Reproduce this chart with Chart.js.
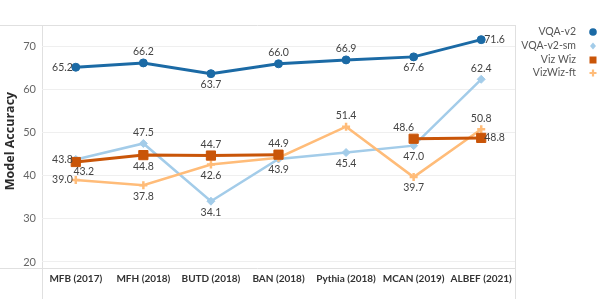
<!DOCTYPE html>
<html>
<head>
<meta charset="utf-8">
<script src="https://cdn.jsdelivr.net/npm/chart.js@4.4.1/dist/chart.umd.min.js"></script>
<style>
  html, body { margin: 0; padding: 0; background: #fff; }
  #wrap { width: 598px; height: 299px; }
</style>
</head>
<body>
<div id="wrap"><canvas id="accChart" width="598" height="299"></canvas></div>
<script>
// ---------------- DATA ----------------
const models = ["MFB (2017)", "MFH (2018)", "BUTD (2018)", "BAN (2018)", "Pythia (2018)", "MCAN (2019)", "ALBEF (2021)"];
const vqaV2   = [65.2, 66.2, 63.7, 66.0, 66.9, 67.6, 71.6];
const vqaV2sm = [43.8, 47.5, 34.1, 43.9, 45.4, 47.0, 62.4];
const vizWiz  = [43.2, 44.8, 44.7, 44.9, null, 48.6, 48.8];
const vizWizFt = [39.0, 37.8, 42.6, 44.2, 51.4, 39.7, 50.8];
const yTicks = [20, 30, 40, 50, 60, 70];

// where each value label sits: a = above, b = below, l = left, r = right, br = below right, n = none
const FONT = "Lato, 'Open Sans', sans-serif";

const datasets = [
  {
    label: "VQA-v2", data: vqaV2, borderColor: "#1b6aa5", backgroundColor: "#1b6aa5",
    borderWidth: 3, pointStyle: "circle", pointRadius: 4, pointBorderWidth: 1, order: 2,
    labelPos: ["l", "a", "b", "a", "a", "b", "r"]
  },
  {
    label: "VQA-v2-sm", data: vqaV2sm, borderColor: "#a3cce9", backgroundColor: "#a3cce9",
    borderWidth: 2.5, pointStyle: "rectRot", pointRadius: 4, pointBorderWidth: 1, order: 3,
    labelPos: ["l", "a", "b", "b", "b", "b", "a"]
  },
  {
    label: "Viz Wiz", data: vizWiz, borderColor: "#c95508", backgroundColor: "#c95508",
    borderWidth: 3, pointStyle: "rect", pointRadius: 6.5, pointBorderWidth: 1, order: 0,
    labelPos: ["br", "b", "a", "a", "n", "al", "r"]
  },
  {
    label: "VizWiz-ft", data: vizWizFt, borderColor: "#ffbc79", backgroundColor: "#ffbc79",
    borderWidth: 2.5, pointStyle: "cross", pointRadius: 4, pointBorderWidth: 2.5, order: 1,
    labelPos: ["l", "b", "b", "n", "a", "b", "a"]
  }
];

// ---------------- PLUGINS ----------------
const frame = {
  id: "frame",
  beforeDraw(chart) {
    const { ctx, chartArea: a } = chart;
    ctx.save();
    ctx.strokeStyle = "#e0e0e0";
    ctx.lineWidth = 1;
    ctx.beginPath();
    ctx.moveTo(0, a.top + 0.5); ctx.lineTo(a.right, a.top + 0.5);
    ctx.moveTo(0, a.bottom + 0.5); ctx.lineTo(a.right, a.bottom + 0.5);
    ctx.moveTo(a.left + 0.5, a.top); ctx.lineTo(a.left + 0.5, 299);
    ctx.moveTo(a.right + 0.5, a.top); ctx.lineTo(a.right + 0.5, 299);
    ctx.stroke();

    // axis title
    ctx.translate(10, 141);
    ctx.rotate(-Math.PI / 2);
    ctx.fillStyle = "#2b2b2b";
    ctx.font = "bold 12.5px 'Open Sans', sans-serif";
    ctx.textAlign = "center";
    ctx.textBaseline = "middle";
    ctx.fillText("Model Accuracy", 0, 0);
    ctx.restore();
  }
};

const valueLabels = {
  id: "valueLabels",
  afterDatasetsDraw(chart) {
    const ctx = chart.ctx;
    ctx.save();
    ctx.font = "10.5px " + FONT;
    ctx.fillStyle = "#444";
    ctx.textBaseline = "middle";
    chart.data.datasets.forEach((ds, i) => {
      const meta = chart.getDatasetMeta(i);
      meta.data.forEach((pt, j) => {
        const v = ds.data[j];
        const pos = ds.labelPos[j];
        if (v == null || pos === "n") return;
        const txt = v.toFixed(1);
        let x = pt.x, y = pt.y;
        if (pos === "a") { ctx.textAlign = "center"; y -= 11; }
        else if (pos === "b") { ctx.textAlign = "center"; y += 11; }
        else if (pos === "l") { ctx.textAlign = "right"; x -= 3; }
        else if (pos === "r") { ctx.textAlign = "left"; x += 3; }
        else if (pos === "br") { ctx.textAlign = "center"; x += 8; y += 10; }
        else if (pos === "al") { ctx.textAlign = "center"; x -= 10; y -= 11; }
        ctx.fillText(txt, x, y);
      });
    });
    ctx.restore();
  }
};

const sideLegend = {
  id: "sideLegend",
  afterDraw(chart) {
    const ctx = chart.ctx;
    const rows = [32, 46, 60, 73];
    ctx.save();
    ctx.font = "10.5px " + FONT;
    ctx.textAlign = "right";
    ctx.textBaseline = "middle";
    chart.data.datasets.forEach((ds, i) => {
      const y = rows[i];
      ctx.fillStyle = "#555";
      ctx.fillText(ds.label, 576, y);
      const x = 593;
      ctx.fillStyle = ds.backgroundColor;
      ctx.strokeStyle = ds.borderColor;
      ctx.beginPath();
      if (ds.pointStyle === "circle") {
        ctx.arc(x, y, 3.8, 0, Math.PI * 2); ctx.fill();
      } else if (ds.pointStyle === "rectRot") {
        ctx.moveTo(x, y - 3.5); ctx.lineTo(x + 3, y); ctx.lineTo(x, y + 3.5); ctx.lineTo(x - 3, y);
        ctx.closePath(); ctx.fill();
      } else if (ds.pointStyle === "rect") {
        ctx.fillRect(x - 3.5, y - 3.5, 7, 7);
      } else {
        ctx.lineWidth = 2.2;
        ctx.moveTo(x - 3.5, y); ctx.lineTo(x + 3.5, y);
        ctx.moveTo(x, y - 3.5); ctx.lineTo(x, y + 3.5);
        ctx.stroke();
      }
    });
    ctx.restore();
  }
};

// ---------------- CHART ----------------
new Chart(document.getElementById("accChart"), {
  type: "line",
  data: { labels: models, datasets: datasets },
  options: {
    responsive: false,
    animation: false,
    spanGaps: false,
    layout: { padding: { top: 25, right: 83, left: 0, bottom: 0 } },
    plugins: { legend: { display: false }, tooltip: { enabled: false } },
    elements: { line: { tension: 0 } },
    scales: {
      x: {
        offset: true,
        grid: { display: false, drawTicks: false },
        border: { display: false },
        ticks: { color: "#333", font: { family: FONT, size: 10, weight: "bold" }, padding: 5, maxRotation: 0, autoSkip: false },
        afterFit(scale) { scale.height = 31; }
      },
      y: {
        min: 18.6,
        max: 75,
        bounds: "data",
        grid: { color: "#efefef", drawTicks: false },
        border: { display: false },
        ticks: { color: "#666", font: { family: FONT, size: 11 }, padding: 6, includeBounds: false },
        afterBuildTicks(scale) { scale.ticks = yTicks.map(v => ({ value: v })); },
        afterFit(scale) { scale.width = 42; }
      }
    }
  },
  plugins: [frame, valueLabels, sideLegend]
});
</script>
</body>
</html>
